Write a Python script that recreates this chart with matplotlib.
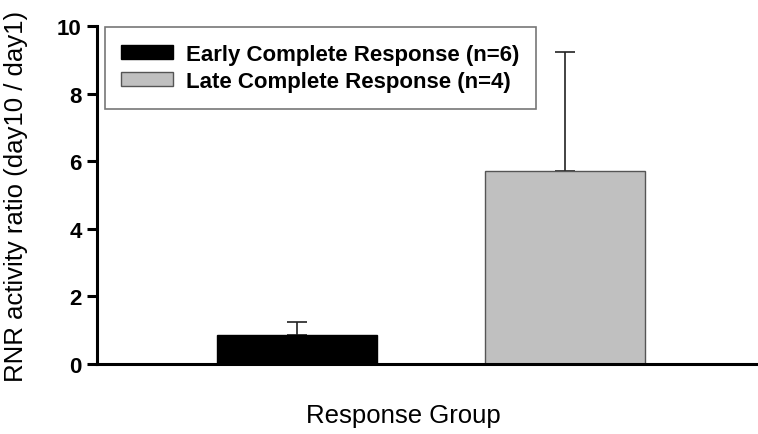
import matplotlib
matplotlib.use('Agg')
import matplotlib.pyplot as plt

groups = ['Early Complete Response (n=6)', 'Late Complete Response (n=4)']
ratios = [0.87, 5.70]
errors = [0.37, 3.53]
bar_colors = ['black', '#c0c0c0']
edge_colors = ['black', '#555555']

plt.rcParams['font.family'] = ['Liberation Sans', 'DejaVu Sans']

fig = plt.figure(figsize=(7.58, 4.35), dpi=100)
ax = fig.add_axes([0.128, 0.161, 0.872, 0.777])

positions = [1, 2]
for pos, val, err, col, ec, lab in zip(positions, ratios, errors, bar_colors, edge_colors, groups):
    ax.bar(pos, val, width=0.6, color=col, edgecolor=ec, linewidth=1, label=lab, zorder=2)
    ax.errorbar(pos, val, yerr=[[0], [err]], fmt='none', ecolor='#222222',
                elinewidth=1.2, capsize=7, capthick=1.2, zorder=1)

ax.set_xlim(0.254, 2.72)
ax.set_ylim(0, 10)
ax.set_yticks([0, 2, 4, 6, 8, 10])
ax.set_xticks([])

for s in ['top', 'right']:
    ax.spines[s].set_visible(False)
for s in ['left', 'bottom']:
    ax.spines[s].set_linewidth(2.2)

ax.tick_params(axis='y', direction='out', length=7, width=2.2, labelsize=16, pad=4)
for t in ax.get_yticklabels():
    t.set_fontweight('bold')

ax.set_ylabel('RNR activity ratio (day10 / day1)', fontsize=18.5, labelpad=10)
ax.yaxis.set_label_coords(-0.105, 0.5)
ax.set_xlabel('Response Group', fontsize=18.5)
ax.xaxis.set_label_coords(0.464, -0.115)

leg = ax.legend(loc='upper left', bbox_to_anchor=(-0.005, 1.03), prop={'weight': 'bold', 'size': 16},
                fancybox=False, edgecolor='#777777', framealpha=1, handlelength=2.3,
                handleheight=0.6, handletextpad=0.6, borderpad=0.75, labelspacing=0.3)
leg.get_frame().set_linewidth(1.2)

fig.savefig('out.png', dpi=100)
